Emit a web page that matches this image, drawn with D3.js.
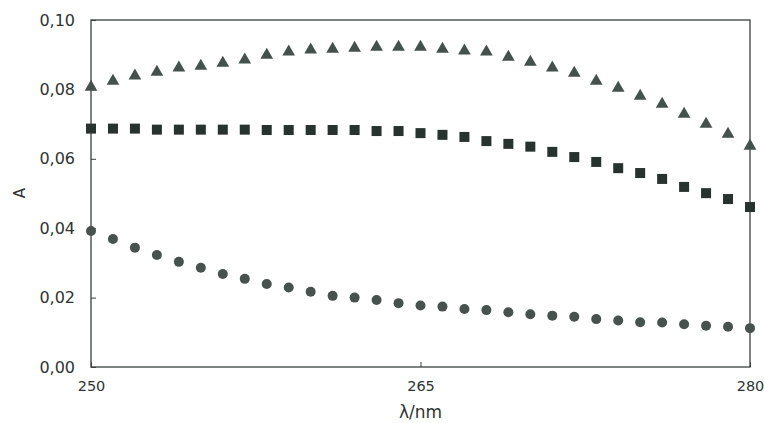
<!DOCTYPE html>
<html>
<head>
<meta charset="utf-8">
<script src="https://cdn.jsdelivr.net/npm/d3@7"></script>
<style>
  html, body { margin: 0; padding: 0; background: #fff; }
  svg { display: block; }
  text { font-family: "DejaVu Sans", Verdana, sans-serif; fill: #2f3332; }
</style>
</head>
<body>
<svg id="chart" width="764" height="423"></svg>
<script>
const wavelengths = d3.range(250, 281, 1);
const triangleSeries = [0.0807,0.0824,0.0839,0.0850,0.0862,0.0867,0.0876,0.0885,0.0899,0.0908,
  0.0914,0.0916,0.0919,0.0922,0.0922,0.0922,0.0916,0.0911,0.0908,0.0893,
  0.0879,0.0862,0.0847,0.0824,0.0804,0.0781,0.0758,0.0729,0.0700,0.0671,0.0637];
const squareSeries = [0.0687,0.0687,0.0687,0.0684,0.0684,0.0684,0.0684,0.0684,0.0683,0.0683,
  0.0683,0.0683,0.0683,0.0680,0.0680,0.0674,0.0669,0.0663,0.0651,0.0643,
  0.0635,0.0620,0.0605,0.0591,0.0573,0.0559,0.0542,0.0519,0.0501,0.0484,0.0461];
const circleSeries = [0.0392,0.0369,0.0344,0.0323,0.0303,0.0286,0.0268,0.0254,0.0239,0.0229,
  0.0217,0.0205,0.0200,0.0193,0.0184,0.0177,0.0174,0.0167,0.0164,0.0158,
  0.0152,0.0148,0.0145,0.0138,0.0134,0.0129,0.0128,0.0123,0.0119,0.0116,0.0112];
const xTicks = [250, 265, 280];
const yTicks = [0, 0.02, 0.04, 0.06, 0.08, 0.10];
const xLabel = "λ/nm";
const yLabel = "A";

const svg = d3.select("#chart");
const margin = {left: 91, right: 14, top: 20, bottom: 56};
const W = 764, H = 423;
const x = d3.scaleLinear().domain([250, 280]).range([margin.left, W - margin.right]);
const y = d3.scaleLinear().domain([0, 0.10]).range([H - margin.bottom, margin.top]);
const fmt = d => d3.format(".2f")(d).replace(".", ",");

// frame
svg.append("rect")
  .attr("x", x(250)).attr("y", y(0.10))
  .attr("width", x(280) - x(250)).attr("height", y(0) - y(0.10))
  .attr("fill", "none").attr("stroke", "#3a3f3d").attr("stroke-width", 1.3);

// y axis
const yAxis = svg.append("g").attr("transform", `translate(${x(250)},0)`)
  .call(d3.axisLeft(y).tickValues(yTicks).tickFormat(fmt).tickSize(-5).tickPadding(16));
yAxis.select(".domain").remove();
yAxis.selectAll("line").attr("stroke", "#3a3f3d");
yAxis.selectAll("text").attr("font-size", 16).attr("fill", "#2f3332").style("font-family", "DejaVu Sans");

// x axis
const xAxis = svg.append("g").attr("transform", `translate(0,${y(0)})`)
  .call(d3.axisBottom(x).tickValues(xTicks).tickFormat(d3.format("d")).tickSize(-5).tickPadding(14));
xAxis.select(".domain").remove();
xAxis.selectAll("line").attr("stroke", "#3a3f3d");
xAxis.selectAll("text").attr("font-size", 14.5).attr("fill", "#2f3332").style("font-family", "DejaVu Sans");

// axis titles
svg.append("text").attr("x", (x(250) + x(280)) / 2).attr("y", 418)
  .attr("text-anchor", "middle").attr("font-size", 17).text(xLabel);
svg.append("text").attr("transform", `translate(25,193) rotate(-90)`)
  .attr("text-anchor", "middle").attr("font-size", 15).text(yLabel);

// series
const tri = d3.symbol().type(d3.symbolTriangle).size(70);
svg.append("g").selectAll("path").data(wavelengths)
  .join("path")
  .attr("d", tri)
  .attr("transform", (d, i) => `translate(${x(d)},${y(triangleSeries[i])})`)
  .attr("fill", "#43524c");

svg.append("g").selectAll("rect").data(wavelengths)
  .join("rect")
  .attr("x", d => x(d) - 5).attr("width", 10).attr("height", 10)
  .attr("y", (d, i) => y(squareSeries[i]) - 5)
  .attr("fill", "#27332f");

svg.append("g").selectAll("circle").data(wavelengths)
  .join("circle")
  .attr("cx", d => x(d)).attr("cy", (d, i) => y(circleSeries[i]))
  .attr("r", 5)
  .attr("fill", "#46524e");
</script>
</body>
</html>
